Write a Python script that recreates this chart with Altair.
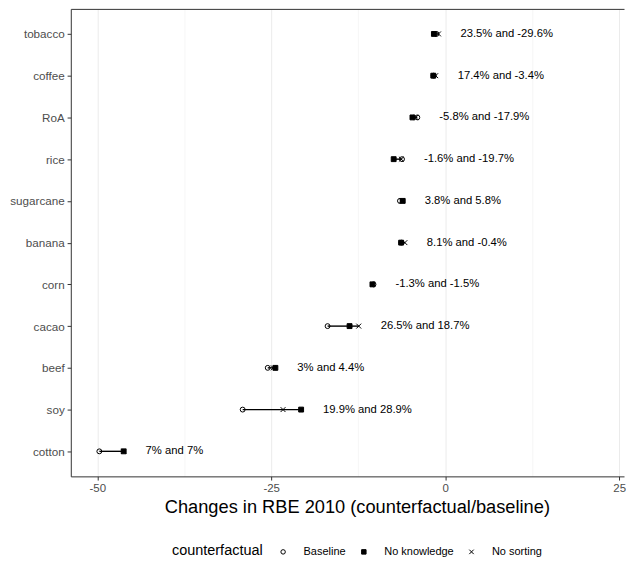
import altair as alt
import pandas as pd

crops = ["tobacco", "coffee", "RoA", "rice", "sugarcane", "banana",
         "corn", "cacao", "beef", "soy", "cotton"]
baseline = [-1.25, -1.65, -4.0, -6.2, -6.5, -6.3, -10.3, -16.9, -25.5, -29.1, -49.7]
no_knowledge = [-1.62, -1.71, -4.7, -7.4, -6.1, -6.33, -10.45, -13.74, -24.4, -20.7, -46.2]
no_sorting = [-0.96, -1.36, -4.23, -6.3, -6.25, -5.79, -10.43, -12.42, -24.7, -23.3, -46.2]
labels = ["23.5% and -29.6%", "17.4% and -3.4%", "-5.8% and -17.9%", "-1.6% and -19.7%",
          "3.8% and 5.8%", "8.1% and -0.4%", "-1.3% and -1.5%", "26.5% and 18.7%",
          "3% and 4.4%", "19.9% and 28.9%", "7% and 7%"]
groups = ["Baseline", "No knowledge", "No sorting"]

FONT = "Liberation Sans"

wide = pd.DataFrame({"crop": crops, "Baseline": baseline,
                     "No knowledge": no_knowledge, "No sorting": no_sorting,
                     "label": labels})
wide["lo"] = wide[groups].min(axis=1)
wide["hi"] = wide[groups].max(axis=1)
long = wide.melt(id_vars=["crop"], value_vars=groups,
                 var_name="counterfactual", value_name="value")

xscale = alt.Scale(domain=[-53.8, 25.7], nice=False, zero=False)
yscale = alt.Scale(type="point", padding=0.6, domain=crops)

minor = "datum.value % 25 !== 0"
xaxis = alt.Axis(
    values=[-50, -37.5, -25, -12.5, 0, 12.5, 25],
    labelExpr="datum.value % 25 === 0 ? toString(datum.value) : ''",
    title="Changes in RBE 2010 (counterfactual/baseline)",
    titleFontSize=18.3, titleFontWeight="normal", titleColor="black",
    titleFont=FONT, titlePadding=4, titleX=287, titleAlign="center",
    labelFont=FONT, labelFontSize=11.5, labelColor="#4D4D4D", labelPadding=2.9,
    tickSize=3.7, tickColor="#333333",
    tickOpacity={"condition": {"test": minor, "value": 0}, "value": 1},
    gridColor="#EBEBEB",
    gridWidth={"condition": {"test": minor, "value": 0.5}, "value": 1},
    domain=True, domainColor="#333333", domainWidth=1,
)
topaxis = alt.Axis(
    orient="top", title=None, labels=False, ticks=False, grid=False,
    domain=True, domainColor="#333333", domainWidth=1,
    minExtent=0, maxExtent=0,
)
yaxis = alt.Axis(
    title=None, labelFont=FONT, labelFontSize=11.7, labelColor="#4D4D4D",
    labelPadding=2.9, tickSize=3.7, tickColor="#333333",
    gridColor="#EBEBEB", gridWidth=1,
    domain=True, domainColor="#333333", domainWidth=1,
    minExtent=63, maxExtent=63,
)

rules = alt.Chart(wide).mark_rule(color="black", strokeWidth=1.4).encode(
    x=alt.X("lo:Q", scale=xscale, axis=xaxis),
    x2="hi:Q",
    y=alt.Y("crop:N", scale=yscale, axis=yaxis, sort=crops),
)

points = alt.Chart(long).mark_point(
    stroke="black", strokeWidth=1, opacity=1, size=24
).encode(
    x=alt.X("value:Q", scale=xscale, axis=None),
    y=alt.Y("crop:N", scale=yscale, axis=yaxis, sort=crops),
    shape=alt.Shape(
        "counterfactual:N",
        scale=alt.Scale(domain=groups,
                        range=["circle", "square", "M-1,-1L1,1M-1,1L1,-1"]),
        title="counterfactual",
    ),
    fill=alt.Fill(
        "counterfactual:N",
        scale=alt.Scale(domain=groups, range=["transparent", "black", "transparent"]),
        title="counterfactual",
    ),
    stroke=alt.Stroke(
        "counterfactual:N",
        scale=alt.Scale(domain=groups, range=["black", "black", "black"]),
        title="counterfactual",
    ),
)

texts = alt.Chart(wide).mark_text(
    align="left", baseline="middle", dx=22, font=FONT, fontSize=11.3, color="black"
).encode(
    x=alt.X("hi:Q", scale=xscale, axis=topaxis),
    y=alt.Y("crop:N", scale=yscale, axis=yaxis, sort=crops),
    text="label:N",
)

chart = alt.layer(rules, points, texts).resolve_axis(x="independent").properties(
    width=555, height=469,
    padding={"left": 0, "top": 0, "right": 0, "bottom": 0},
).configure_view(
    stroke=None
).configure_legend(
    orient="none", legendX=101.5, legendY=539, direction="horizontal",
    titleOrient="left", titleFont=FONT, titleFontSize=14.5,
    titleFontWeight="normal", titleColor="black", titlePadding=14,
    labelFont=FONT, labelFontSize=11, labelColor="black", labelOffset=15,
    symbolStrokeColor="black", symbolStrokeWidth=1, symbolSize=20,
    columnPadding=12, padding=0, titleBaseline="middle", titleLimit=0,
)

chart.save("out.html", embed_options={"renderer": "svg", "actions": False})
